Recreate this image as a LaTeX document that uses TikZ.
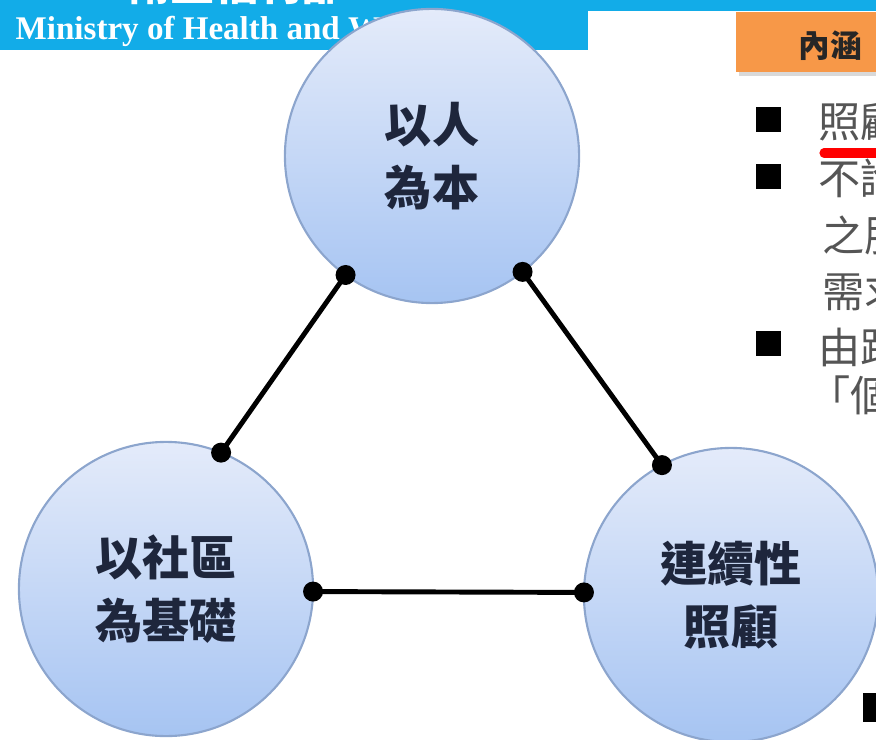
\documentclass[tikz,border=0pt]{standalone}
\usepackage{fontspec}
\setmainfont{Liberation Serif}
\newfontfamily\cjk{Noto Sans CJK TC}
\definecolor{hdrblue}{RGB}{18,172,232}
\definecolor{tagorange}{RGB}{247,152,72}
\definecolor{ringedge}{RGB}{140,165,205}
\definecolor{balltop}{RGB}{228,235,250}
\definecolor{ballbot}{RGB}{166,196,242}
\definecolor{inkblue}{RGB}{30,38,60}
\definecolor{bodygray}{RGB}{85,85,85}
\tikzset{
  ball/.style={circle, draw=ringedge, line width=0.6pt, top color=balltop, bottom color=ballbot,
    minimum size=2.94cm, inner sep=0pt, outer sep=0pt, align=center, text=inkblue,
    font=\cjk\bfseries\fontsize{13.4}{18}\selectfont},
  link/.style={line width=1.4pt, black},
  btxt/.style={anchor=west, inner sep=0pt, text=bodygray, font=\cjk\fontsize{12}{14}\selectfont},
}

\begin{document}
\begin{tikzpicture}[x=0.01cm, y=-0.01cm]
  \useasboundingbox (0,0) rectangle (876,740);
  \clip (0,0) rectangle (876,740);

  % header bar
  \fill[hdrblue] (0,0) rectangle (876,11);
  \fill[hdrblue] (0,0) rectangle (588,50);
  \node[anchor=south, inner sep=0pt, text=white, font=\cjk\bfseries\fontsize{12.5}{14}\selectfont] (hdrzh) at (236,5) {衛生福利部};
  \node[anchor=base west, inner sep=0pt, text=white, font=\bfseries\fontsize{9.4}{11}\selectfont] (hdren) at (15,40) {Ministry of Health and W};

  % orange tag
  \fill[black!15] (739,16) rectangle (880,76);
  \fill[tagorange] (736,12) rectangle (880,72);
  \node[anchor=west, inner sep=0pt, text=black!85, font=\cjk\bfseries\fontsize{9}{10}\selectfont] (tag) at (798,46) {內涵};

  % bullets
  \foreach \y in {107,164,331}
    \fill (756,\y) rectangle (781,\y+25);
  \node[btxt] (lineA) at (818,122) {照顧};
  \node[btxt] (lineB) at (818,178) {不論};
  \node[btxt] (lineC) at (822,235) {之服};
  \node[btxt] (lineD) at (822,292) {需求};
  \node[btxt] (lineE) at (818,348) {由跨};
  \node[btxt] (lineF) at (808,395) {「個};
  \draw[red, line width=2.6pt, line cap=round] (824,153) -- (890,153);
  \fill (863,693) rectangle (880,722);

  % circles
  \node[ball] (person) at (432,156) {以人\\為本};
  \node[ball] (community) at (166,589) {以社區\\為基礎};
  \node[ball] (care) at (731,595) {連續性\\照顧};

  \draw[link] (person.234) -- (community.68);
  \draw[link] (person.308) -- (care.118);
  \draw[link] (community.359) -- (care.179);
  \foreach \p in {person.234, person.308, community.68, community.359, care.118, care.179}
    \fill (\p) circle (10);
\end{tikzpicture}
\end{document}
